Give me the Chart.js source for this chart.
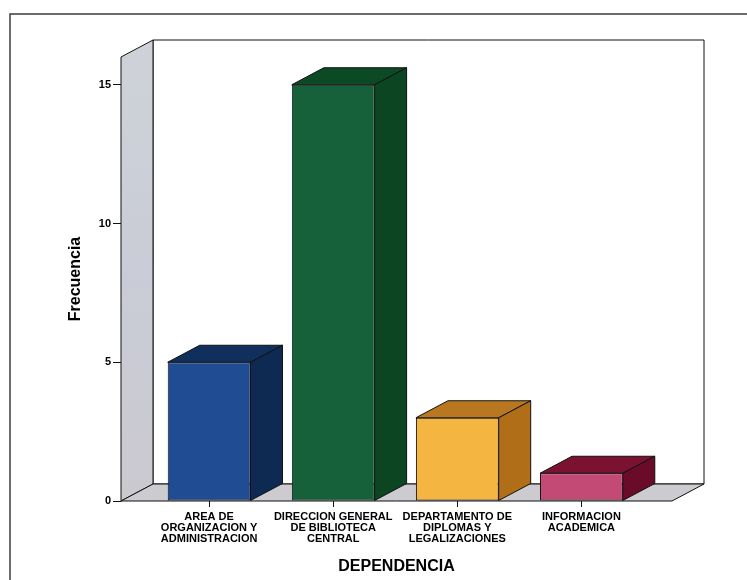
<!DOCTYPE html>
<html>
<head>
<meta charset="utf-8">
<script src="https://cdn.jsdelivr.net/npm/chart.js@4"></script>
<style>
  body { margin: 0; background: #fff; }
  #wrap { width: 747px; height: 580px; }
</style>
</head>
<body>
<div id="wrap"><canvas id="chart" width="747" height="580"></canvas></div>
<script>
const categories = [
  ['AREA DE', 'ORGANIZACION Y', 'ADMINISTRACION'],
  ['DIRECCION GENERAL', 'DE BIBLIOTECA', 'CENTRAL'],
  ['DEPARTAMENTO DE', 'DIPLOMAS Y', 'LEGALIZACIONES'],
  ['INFORMACION', 'ACADEMICA']
];
const frecuencia = [5, 15, 3, 1];
const yTicks = [0, 5, 10, 15];

// front / top / side shades for each bar
const frontColors = ['#1f4c92', '#16603a', '#f5b541', '#c24a74'];
const topColors = ['#112f5c', '#0c4925', '#b9781f', '#7c1232'];
const sideColors = ['#0e2a52', '#0b4522', '#b06e18', '#6a0c29'];

const depth = { dx: 32, dy: -17 };
const FONT = '"Liberation Sans", Arial, sans-serif';

function poly(ctx, pts, fill) {
  ctx.beginPath();
  ctx.moveTo(pts[0][0], pts[0][1]);
  for (let i = 1; i < pts.length; i++) ctx.lineTo(pts[i][0], pts[i][1]);
  ctx.closePath();
  ctx.fillStyle = fill;
  ctx.fill();
  ctx.stroke();
}

const box3d = {
  id: 'box3d',
  beforeDraw(chart) {
    const { ctx, chartArea: a } = chart;
    const { dx, dy } = depth;
    ctx.save();
    // outer frame
    ctx.strokeStyle = '#3c3c3c';
    ctx.lineWidth = 1.5;
    ctx.beginPath();
    ctx.moveTo(10, chart.height);
    ctx.lineTo(10, 14);
    ctx.lineTo(chart.width, 14);
    ctx.stroke();

    ctx.strokeStyle = '#111';
    ctx.lineWidth = 1;
    ctx.lineJoin = 'round';
    // back wall
    poly(ctx, [[a.left + dx, a.top + dy], [a.right + dx, a.top + dy],
      [a.right + dx, a.bottom + dy], [a.left + dx, a.bottom + dy]], '#ffffff');
    // side wall
    const g = ctx.createLinearGradient(0, a.top, 0, a.bottom);
    g.addColorStop(0, '#ced2d8');
    g.addColorStop(0.5, '#c9ccd6');
    g.addColorStop(1, '#cbc9d0');
    poly(ctx, [[a.left, a.top], [a.left + dx, a.top + dy],
      [a.left + dx, a.bottom + dy], [a.left, a.bottom]], g);
    // floor
    poly(ctx, [[a.left, a.bottom], [a.right, a.bottom],
      [a.right + dx, a.bottom + dy], [a.left + dx, a.bottom + dy]], '#cbcbd0');
    ctx.restore();
  },
  afterDatasetsDraw(chart) {
    const { ctx } = chart;
    const { dx, dy } = depth;
    ctx.save();
    ctx.strokeStyle = '#111';
    ctx.lineWidth = 1;
    ctx.lineJoin = 'round';
    chart.getDatasetMeta(0).data.forEach((bar, i) => {
      const { x, y, base, width } = bar.getProps(['x', 'y', 'base', 'width'], true);
      const l = x - width / 2, r = x + width / 2;
      poly(ctx, [[l, y], [l + dx, y + dy], [r + dx, y + dy], [r, y]], topColors[i]);
      poly(ctx, [[r, y], [r + dx, y + dy], [r + dx, base + dy], [r, base]], sideColors[i]);
    });
    ctx.restore();
  }
};

new Chart(document.getElementById('chart'), {
  type: 'bar',
  data: {
    datasets: [{
      data: frecuencia.map((v, i) => ({ x: i, y: v })),
      backgroundColor: frontColors,
      borderColor: '#111',
      borderWidth: 1,
      borderSkipped: false,
      categoryPercentage: 1,
      barPercentage: 0.667
    }]
  },
  options: {
    responsive: false,
    animation: false,
    layout: { padding: { top: 57, right: 75, left: 0, bottom: 0 } },
    plugins: { legend: { display: false }, tooltip: { enabled: false } },
    scales: {
      x: {
        type: 'linear',
        offset: false,
        min: -0.71,
        max: 3.73,
        afterBuildTicks: s => { s.ticks = categories.map((c, i) => ({ value: i })); },
        afterFit: s => { s.height = 79; },
        grid: { offset: false, drawOnChartArea: false, drawTicks: true, tickLength: 6, color: '#111' },
        border: { display: false },
        ticks: {
          padding: 4,
          maxRotation: 0,
          autoSkip: false,
          color: '#000',
          font: { family: FONT, size: 11, weight: 'bold', lineHeight: 1.0 },
          callback: v => categories[v]
        },
        title: {
          display: true,
          text: 'DEPENDENCIA',
          color: '#000',
          font: { family: FONT, size: 16, weight: 'bold' },
          padding: { top: 0, bottom: 4 }
        }
      },
      y: {
        min: 0,
        max: 16,
        afterBuildTicks: s => { s.ticks = yTicks.map(v => ({ value: v })); },
        afterFit: s => { s.width = 121; },
        grid: { drawOnChartArea: false, drawTicks: true, tickLength: 8, color: '#111' },
        border: { display: false },
        ticks: {
          padding: 2,
          color: '#000',
          font: { family: FONT, size: 11, weight: 'bold' }
        },
        title: {
          display: true,
          text: 'Frecuencia',
          color: '#000',
          font: { family: FONT, size: 16, weight: 'bold' },
          padding: { top: 66, bottom: 0 }
        }
      }
    }
  },
  plugins: [box3d]
});
</script>
</body>
</html>
